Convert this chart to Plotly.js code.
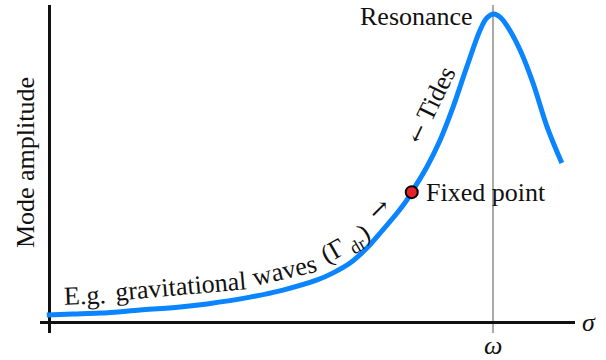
<!DOCTYPE html>
<html>
<head>
<meta charset="utf-8">
<script src="https://cdn.plot.ly/plotly-3.0.1.min.js"></script>
<style>html,body{margin:0;padding:0;background:#fff;}#plot{width:606px;height:360px;}</style>
</head>
<body>
<div id="plot"></div>
<script>
// Forcing frequency sigma (in units of omega) and mode amplitude (peak = 1)
var sigma = [-0.005, 0.054, 0.115, 0.205, 0.295, 0.356, 0.453, 0.527, 0.604, 0.640, 0.678, 0.716, 0.752, 0.784, 0.806, 0.817, 0.851, 0.881, 0.910, 0.941, 0.971, 0.986, 1.002, 1.016, 1.032, 1.061, 1.090, 1.122, 1.155];
var amplitude = [0.023, 0.026, 0.029, 0.039, 0.049, 0.059, 0.081, 0.104, 0.137, 0.160, 0.192, 0.241, 0.300, 0.355, 0.397, 0.423, 0.505, 0.593, 0.700, 0.831, 0.951, 0.990, 1.003, 0.993, 0.964, 0.886, 0.779, 0.635, 0.518];
var fixedSigma = [0.817];
var fixedAmp = [0.423];
var tickVals = [1];
var tickText = ['<i>ω</i>'];

var SERIF = 'Liberation Serif, Times New Roman, serif';
// helpers mapping reference pixel positions of labels into data coordinates
function X(px){ return (px - 49) / 444; }
function Y(py){ return (322 - py) / 307; }

var traces = [
  {x: sigma, y: amplitude, mode: 'lines', type: 'scatter',
   line: {color: '#0a84ff', width: 5, shape: 'spline', smoothing: 1}, hoverinfo: 'skip'},
  {x: fixedSigma, y: fixedAmp, mode: 'markers', type: 'scatter',
   marker: {color: '#e8222a', size: 12, line: {color: '#000', width: 2}}, hoverinfo: 'skip'}
];

function ann(text, px, py, angle, size, xanchor, family){
  return {text: text, x: X(px), y: Y(py), xref: 'x', yref: 'y', showarrow: false,
          textangle: angle || 0, xanchor: xanchor || 'center', yanchor: 'middle',
          font: {family: family || SERIF, size: size || 26, color: '#111'}};
}

var annotations = [
  ann('E.g.', 85, 295, -2, 26),
  ann('gravitational', 180, 286, -5, 26),
  ann('waves', 284, 270, -13, 26),
  ann('(Γ<sub> dr</sub>)', 346, 245, -30, 26),
  ann('→', 379, 209, -45, 24, 'center', 'DejaVu Serif'),
  ann('<span style="font-family:DejaVu Serif;font-size:22px">←</span> Tides', 430, 105, -64, 26),
  ann('Resonance', 416, 16, 0, 26),
  ann('Fixed point', 424, 192, 0, 26, 'left'),
  {text: tickText[0], x: tickVals[0], y: -0.0366, xref: 'x', yref: 'paper', showarrow: false,
   xanchor: 'center', yanchor: 'middle', font: {family: SERIF, size: 26, color: '#111'}},
  {text: '<i>σ</i>', x: 1.026, y: 0.0335, xref: 'paper', yref: 'paper', showarrow: false,
   xanchor: 'center', yanchor: 'middle', font: {family: SERIF, size: 26, color: '#111'}},
  {text: 'Mode amplitude', x: -0.028, y: 0.518, xref: 'paper', yref: 'paper', showarrow: false,
   textangle: -90, xanchor: 'center', yanchor: 'middle', font: {family: SERIF, size: 26, color: '#111'}}
];

var layout = {
  width: 606, height: 360,
  margin: {l: 40, r: 31, t: 5, b: 27, pad: 0},
  paper_bgcolor: '#fff', plot_bgcolor: '#fff',
  showlegend: false,
  xaxis: {range: [-0.0203, 1.1847], showline: false, zeroline: true, zerolinecolor: '#111', zerolinewidth: 3,
          showgrid: true, gridcolor: '#aaaaaa', gridwidth: 1.5, tickmode: 'array', tickvals: tickVals,
          showticklabels: false, ticks: '', fixedrange: true},
  yaxis: {range: [-0.0358, 1.0326], showline: false, zeroline: true, zerolinecolor: '#111', zerolinewidth: 3,
          showgrid: false, showticklabels: false, ticks: '', fixedrange: true},
  annotations: annotations
};

Plotly.newPlot('plot', traces, layout, {displayModeBar: false, staticPlot: true});
</script>
</body>
</html>
